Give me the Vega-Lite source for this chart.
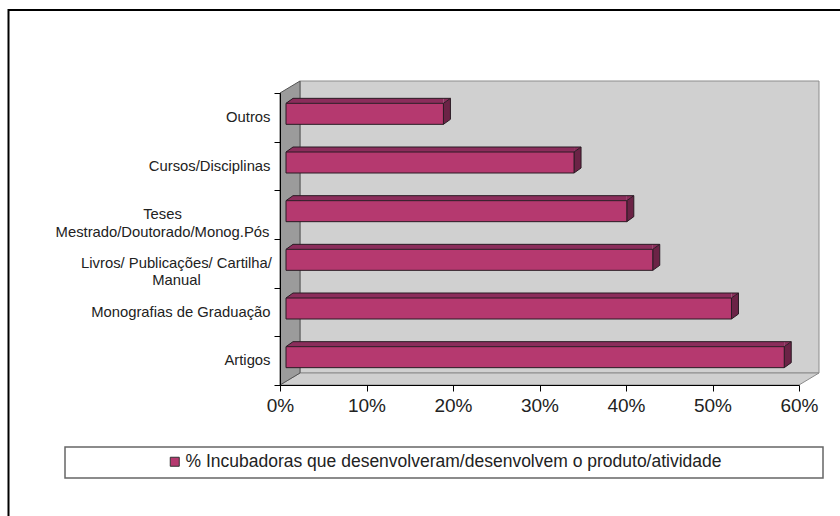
{
  "$schema": "https://vega.github.io/schema/vega-lite/v6.json",
  "width": 519,
  "height": 292,
  "autosize": {"type": "none"},
  "padding": {"left": 280, "top": 93, "right": 41, "bottom": 131},
  "background": "white",
  "config": {"view": {"stroke": null}, "font": "Liberation Sans"},
  "datasets": {
    "bars": [
      {"cat": "Outros", "v": 0.182, "series": "% Incubadoras que desenvolveram/desenvolvem o produto/atividade"},
      {"cat": "Cursos/Disciplinas", "v": 0.333, "series": "% Incubadoras que desenvolveram/desenvolvem o produto/atividade"},
      {"cat": "Teses Mestrado/Doutorado/Monog.Pós", "v": 0.394, "series": "% Incubadoras que desenvolveram/desenvolvem o produto/atividade"},
      {"cat": "Livros/ Publicações/ Cartilha/ Manual", "v": 0.424, "series": "% Incubadoras que desenvolveram/desenvolvem o produto/atividade"},
      {"cat": "Monografias de Graduação", "v": 0.515, "series": "% Incubadoras que desenvolveram/desenvolvem o produto/atividade"},
      {"cat": "Artigos", "v": 0.576, "series": "% Incubadoras que desenvolveram/desenvolvem o produto/atividade"}
    ]
  },
  "layer": [
    {
      "data": {"values": [{}]},
      "layer": [
        {
          "mark": {"type": "rect", "fill": "#d0d0d0", "stroke": "#8c8c8c", "strokeWidth": 1, "xOffset": 20, "x2Offset": 20, "yOffset": -12, "y2Offset": -12},
          "encoding": {
            "x": {"datum": 0, "type": "quantitative", "scale": {"domain": [0, 0.6], "nice": false}},
            "x2": {"datum": 0.6},
            "y": {"datum": 0, "type": "quantitative", "scale": {"domain": [0, 1], "nice": false, "zero": false}, "axis": null},
            "y2": {"datum": 1}
          }
        },
        {
          "mark": {"type": "point", "shape": "M0,0L519,0L539,-12L20,-12Z", "size": 4, "filled": true, "opacity": 1, "color": "#cfcfcf", "stroke": "#8c8c8c", "strokeWidth": 1},
          "encoding": {
            "x": {"datum": 0, "type": "quantitative", "scale": {"domain": [0, 0.6], "nice": false}},
            "y": {"datum": 0, "type": "quantitative", "scale": {"domain": [0, 1], "nice": false, "zero": false}, "axis": null}
          }
        },
        {
          "mark": {"type": "point", "shape": "M0,0L0,-292L20,-304L20,-12Z", "size": 4, "filled": true, "opacity": 1, "color": "#9b9b9b", "stroke": "#555555", "strokeWidth": 1},
          "encoding": {
            "x": {"datum": 0, "type": "quantitative", "scale": {"domain": [0, 0.6], "nice": false}},
            "y": {"datum": 0, "type": "quantitative", "scale": {"domain": [0, 1], "nice": false, "zero": false}, "axis": null}
          }
        },
        {
          "mark": {"type": "rect", "fill": null, "fillOpacity": 0, "stroke": "#000000", "strokeWidth": 2},
          "encoding": {
            "x": {"datum": -0.31387, "type": "quantitative", "scale": {"domain": [0, 0.6], "nice": false}},
            "x2": {"datum": 0.68},
            "y": {"datum": 1.28425, "type": "quantitative", "scale": {"domain": [0, 1], "nice": false, "zero": false}, "axis": null},
            "y2": {"datum": -0.47}
          }
        },
        {
          "mark": {"type": "rect", "fill": null, "fillOpacity": 0, "stroke": "#666666", "strokeWidth": 1.5},
          "encoding": {
            "x": {"datum": -0.24855, "type": "quantitative", "scale": {"domain": [0, 0.6], "nice": false}},
            "x2": {"datum": 0.62775},
            "y": {"datum": -0.21233, "type": "quantitative", "scale": {"domain": [0, 1], "nice": false, "zero": false}, "axis": null},
            "y2": {"datum": -0.31849}
          }
        }
      ]
    },
    {
      "data": {"name": "bars"},
      "encoding": {
        "y": {
          "field": "cat",
          "type": "nominal",
          "sort": ["Outros", "Cursos/Disciplinas", "Teses Mestrado/Doutorado/Monog.Pós", "Livros/ Publicações/ Cartilha/ Manual", "Monografias de Graduação", "Artigos"],
          "scale": {"paddingInner": 0, "paddingOuter": 0},
          "axis": {
            "title": null,
            "zindex": 1,
            "domain": true,
            "ticks": true,
            "domainColor": "#000000",
            "domainWidth": 1,
            "tickColor": "#000000",
            "tickWidth": 1,
            "tickSize": 6,
            "tickBand": "extent",
            "labelFontSize": 14.8,
            "labelFont": "Liberation Sans",
            "labelColor": "#222222",
            "labelLimit": 400,
            "labelLineHeight": 17.5,
            "labelAlign": {"condition": {"test": "datum.value == 'Teses Mestrado/Doutorado/Monog.Pós' || datum.value == 'Livros/ Publicações/ Cartilha/ Manual'", "value": "center"}, "value": "right"},
            "labelPadding": {"condition": [{"test": "datum.value == 'Teses Mestrado/Doutorado/Monog.Pós'", "value": 112}, {"test": "datum.value == 'Livros/ Publicações/ Cartilha/ Manual'", "value": 98}], "value": 4},
            "labelExpr": "datum.value == 'Teses Mestrado/Doutorado/Monog.Pós' ? ['Teses', 'Mestrado/Doutorado/Monog.Pós'] : datum.value == 'Livros/ Publicações/ Cartilha/ Manual' ? ['Livros/ Publicações/ Cartilha/', 'Manual'] : datum.label"
          }
        }
      },
      "layer": [
        {
          "mark": {"type": "bar", "height": 5, "yOffset": -16.5, "xOffset": 6, "x2Offset": 13, "fill": "#8b2d5b"},
          "encoding": {
            "x": {"field": "v", "type": "quantitative", "scale": {"domain": [0, 0.6], "nice": false}},
            "x2": {"datum": 0}
          }
        },
        {
          "mark": {"type": "point", "shape": "M6,-14L13,-19L13,-14Z", "size": 4, "filled": true, "opacity": 1, "color": "#8b2d5b"},
          "encoding": {
            "x": {"datum": 0, "type": "quantitative", "scale": {"domain": [0, 0.6], "nice": false}}
          }
        },
        {
          "mark": {"type": "point", "shape": "M6,-14L6,-19L13,-19Z", "size": 4, "filled": true, "opacity": 1, "color": "#8b2d5b"},
          "encoding": {
            "x": {"field": "v", "type": "quantitative", "scale": {"domain": [0, 0.6], "nice": false}}
          }
        },
        {
          "mark": {"type": "point", "shape": "M6,-14L13,-19L13,2L6,7Z", "size": 4, "filled": true, "opacity": 1, "color": "#6b2346", "stroke": "#2b1b24", "strokeWidth": 1},
          "encoding": {
            "x": {"field": "v", "type": "quantitative", "scale": {"domain": [0, 0.6], "nice": false}}
          }
        },
        {
          "mark": {"type": "rule", "color": "#2b1b24", "strokeWidth": 1, "xOffset": 13, "x2Offset": 13, "yOffset": -19},
          "encoding": {
            "x": {"field": "v", "type": "quantitative", "scale": {"domain": [0, 0.6], "nice": false}},
            "x2": {"datum": 0}
          }
        },
        {
          "mark": {"type": "point", "shape": "M6,-14L13,-19", "size": 4, "filled": false, "opacity": 1, "color": "#2b1b24", "strokeWidth": 1},
          "encoding": {
            "x": {"datum": 0, "type": "quantitative", "scale": {"domain": [0, 0.6], "nice": false}}
          }
        },
        {
          "mark": {"type": "bar", "height": 21, "yOffset": -3.5, "xOffset": 6, "x2Offset": 6, "stroke": "#2b1b24", "strokeWidth": 1},
          "encoding": {
            "x": {
              "field": "v",
              "type": "quantitative",
              "scale": {"domain": [0, 0.6], "nice": false},
              "axis": {
                "values": [0, 0.1, 0.2, 0.3, 0.4, 0.5, 0.6],
                "format": ".0%",
                "title": null,
                "grid": false,
                "zindex": 1,
                "domainColor": "#000000",
                "tickColor": "#000000",
                "tickSize": 6,
                "labelFontSize": 19,
                "labelFont": "Liberation Sans",
                "labelColor": "#222222",
                "labelPadding": 5,
                "labelFlush": false,
                "labelOverlap": false
              }
            },
            "x2": {"datum": 0},
            "color": {
              "field": "series",
              "type": "nominal",
              "scale": {"range": ["#b5396f"]},
              "legend": {
                "orient": "none",
                "legendX": -114,
                "legendY": 360,
                "title": null,
                "symbolType": "square",
                "symbolSize": 81,
                "symbolStrokeColor": "#333333",
                "symbolStrokeWidth": 1,
                "labelFontSize": 17.5,
                "labelFont": "Liberation Sans",
                "labelColor": "#222222",
                "labelOffset": 2,
                "labelLimit": 800
              }
            }
          }
        }
      ]
    }
  ],
  "resolve": {"scale": {"y": "independent"}}
}
